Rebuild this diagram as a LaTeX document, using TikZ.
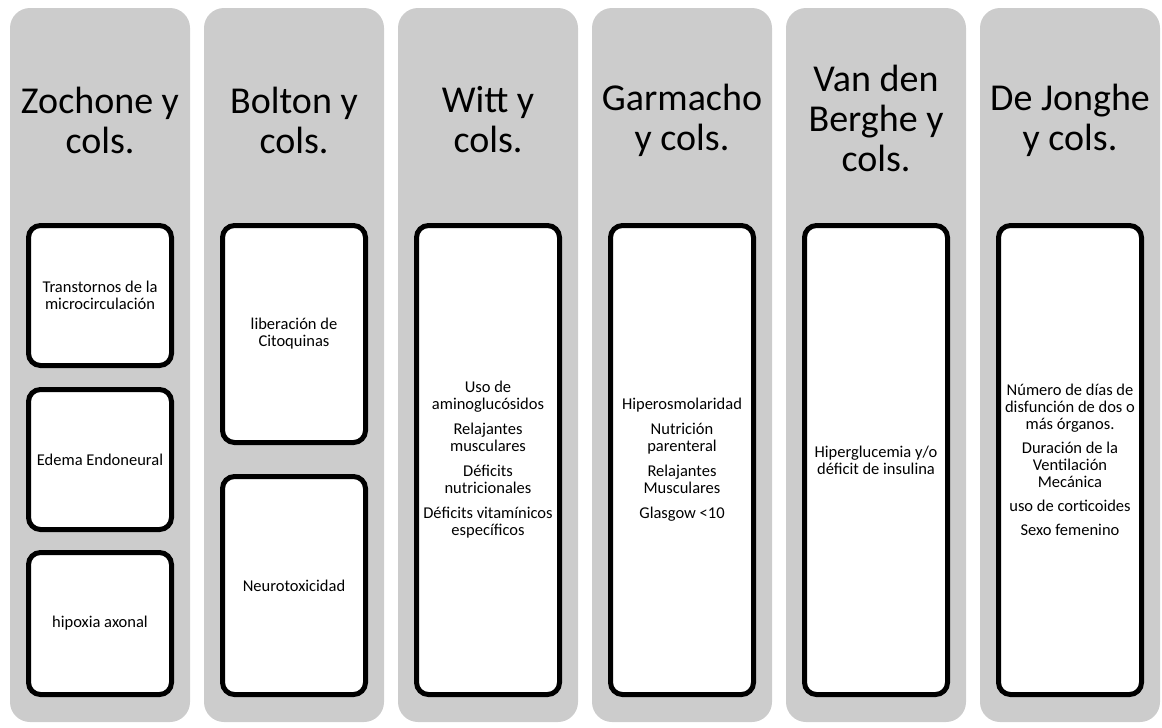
\documentclass[tikz,border=0pt]{standalone}
\usepackage{fontspec}
\setmainfont{Carlito}
\usepackage{tikz}

\begin{document}
\begin{tikzpicture}[x=1pt,y=-1pt]
\tikzstyle{column}=[fill=black!20,rounded corners=20pt,minimum width=180pt,minimum height=714pt,inner sep=0pt]
\tikzstyle{head}=[font=\fontsize{38}{40}\selectfont,align=center]
\tikzstyle{card}=[draw,line width=5pt,fill=white,rounded corners=12pt,minimum width=143pt,inner sep=2pt,align=center,font=\fontsize{16.5}{17}\selectfont]
\useasboundingbox (0,0) rectangle (1162,728);
% columns
\node [column] (zochone) at (100,365) {};
\node [column] (bolton) at (294,365) {};
\node [column] (witt) at (488,365) {};
\node [column] (garmacho) at (682,365) {};
\node [column] (berghe) at (876,365) {};
\node [column] (jonghe) at (1070,365) {};
% headers
\node [head] (zochone head) at (100,120) {Zochone y\\cols.};
\node [head] (bolton head) at (294,120) {Bolton y\\cols.};
\node [head] (witt head) at (488,120) {Witt y\\cols.};
\node [head] (garmacho head) at (682,120) {Garmacho\\y cols.};
\node [head] (berghe head) at (876,118) {Van den\\Berghe y\\cols.};
\node [head] (jonghe head) at (1070,120) {De Jonghe\\y cols.};
% cards
\node [card,minimum height=140pt] (micro) at (100,295.5) {Transtornos de la\\microcirculación};
\node [card,minimum height=140pt] (edema) at (100,459.5) {Edema Endoneural};
\node [card,minimum height=142pt] (hipoxia) at (100,623.5) {hipoxia axonal};
\node [card,minimum height=217pt] (citoq) at (294,334) {liberación de\\Citoquinas};
\node [card,minimum height=218pt] (neuro) at (294,585.5) {Neurotoxicidad};
\node [card,minimum height=469pt] (witt card) at (488,460) {Uso de\\aminoglucósidos\\[8pt]
    Relajantes\\musculares\\[8pt]Déficits\\nutricionales\\[8pt]
    Déficits vitamínicos\\específicos};
\node [card,minimum height=469pt] (garmacho card) at (682,460) {Hiperosmolaridad\\[8pt]
    Nutrición\\parenteral\\[8pt]Relajantes\\Musculares\\[8pt]Glasgow <10};
\node [card,minimum height=469pt] (berghe card) at (876,460) {Hiperglucemia y/o\\déficit de insulina};
\node [card,minimum height=469pt] (jonghe card) at (1070,460) {Número de días de\\disfunción de dos o\\más órganos.\\[7pt]
    Duración de la\\Ventilación\\Mecánica\\[7pt]uso de corticoides\\[7pt]Sexo femenino};
\end{tikzpicture}
\end{document}
